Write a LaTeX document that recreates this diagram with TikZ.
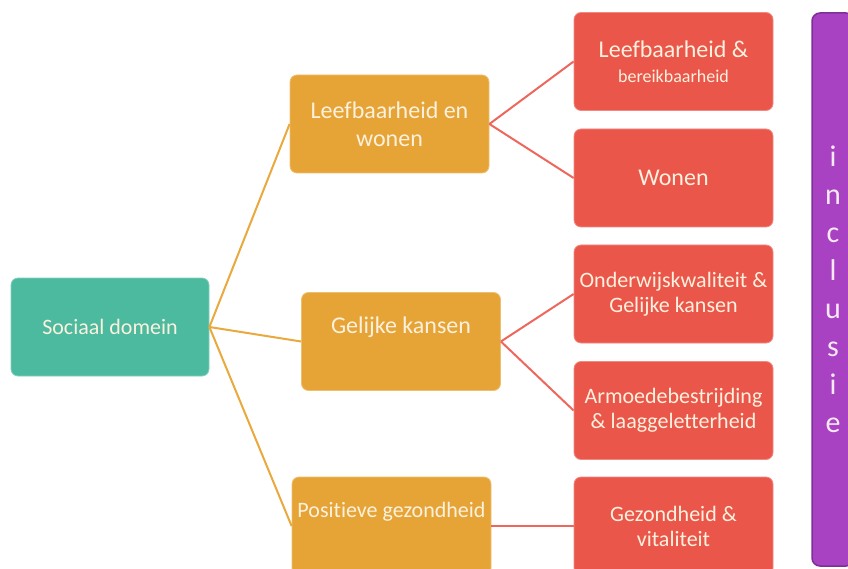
\documentclass[tikz,border=0pt]{standalone}
\usepackage{fontspec}
\setmainfont[Ligatures=NoCommon]{Carlito}
\definecolor{socgreen}{HTML}{4BBA9F}
\definecolor{themeorange}{HTML}{E6A436}
\definecolor{subred}{HTML}{EB564B}
\definecolor{incpurple}{HTML}{A842C2}
\definecolor{incborder}{HTML}{7C2F97}
\definecolor{boxtext}{HTML}{FCF1DE}
\definecolor{inctext}{HTML}{F8E9F6}
\definecolor{orangeline}{HTML}{E9A93C}
\definecolor{redline}{HTML}{EE675D}

\begin{document}
\begin{tikzpicture}[x=1pt, y=-1pt,
    basebox/.style={rectangle, rounded corners=7pt, minimum width=199pt, minimum height=98pt,
                inner sep=2pt, align=center, text=boxtext, line width=0.8pt,
                font=\fontsize{22}{25}\selectfont},
    rootbox/.style={basebox, fill=socgreen, draw=socgreen!70!white},
    themebox/.style={basebox, fill=themeorange, draw=themeorange!70!white, font=\fontsize{24}{28}\selectfont},
    subbox/.style={basebox, fill=subred, draw=subred!70!white},
    inclbox/.style={rectangle, rounded corners=8pt, minimum width=42pt, minimum height=553pt,
                 fill=incpurple, draw=incborder, line width=1.5pt},
    link/.style={line width=2pt}]
   \clip (0,0) rectangle (848,569);

   \node [rootbox, minimum width=198pt] (soc) at (110,327) {Sociaal domein};

   \node [themebox] (lw) at (389.5,124) {Leefbaarheid en\\wonen};
   \node [themebox] (gk) at (401,341.5) {Gelijke kansen\\[4pt]\mbox{}};
   \node [themebox, font=\fontsize{22}{28}\selectfont] (pg) at (391.5,526) {Positieve gezondheid\\[4pt]\mbox{}};

   \node [subbox] (lb) at (673.5,61.5) {\fontsize{24}{24}\selectfont Leefbaarheid \&\\{\fontsize{18}{18}\selectfont bereikbaarheid}};
   \node [subbox, font=\fontsize{24}{28}\selectfont] (wo) at (673.5,178) {Wonen};
   \node [subbox] (ow) at (673.5,294) {Onderwijskwaliteit \&\\Gelijke kansen};
   \node [subbox] (ar) at (673.5,410.5) {Armoedebestrijding\\\& laaggeletterheid};
   \node [subbox] (gv) at (673.5,526) {Gezondheid \&\\vitaliteit};

   \node [inclbox] (inc) at (833,289.5) {};
   \node [text=inctext, align=center, font=\fontsize{30}{38}\selectfont] (inctxt) at (inc.center)
        {i\\n\\c\\l\\u\\s\\i\\e};

   \path[link, orangeline] (soc.east) edge (lw.west)
                           (soc.east) edge (gk.west)
                           (soc.east) edge (pg.west);

   \path[link, redline] (lw.east) edge (lb.west)
                        (lw.east) edge (wo.west)
                        (gk.east) edge (ow.west)
                        (gk.east) edge (ar.west)
                        (pg.east) edge (gv.west);
\end{tikzpicture}
\end{document}
